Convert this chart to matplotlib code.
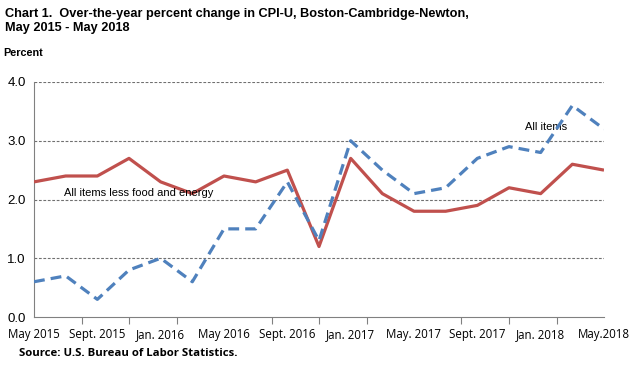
import matplotlib
matplotlib.use("Agg")
import matplotlib.pyplot as plt
import numpy as np

all_items = [0.6, 0.7, 0.3, 0.8, 1.0, 0.6, 1.5, 1.5, 2.3, 1.3, 3.0, 2.5, 2.1, 2.2, 2.7, 2.9, 2.8, 3.6, 3.2]
core = [2.3, 2.4, 2.4, 2.7, 2.3, 2.1, 2.4, 2.3, 2.5, 1.2, 2.7, 2.1, 1.8, 1.8, 1.9, 2.2, 2.1, 2.6, 2.5]
x_labels = ["May 2015", "Sept. 2015", "Jan. 2016", "May 2016", "Sept. 2016", "Jan. 2017",
            "May. 2017", "Sept. 2017", "Jan. 2018", "May.2018"]
y_ticks = [0.0, 1.0, 2.0, 3.0, 4.0]

fig = plt.figure(figsize=(6.43, 3.76), dpi=100)
ax = fig.add_axes([34/643, 1-317/376, (604-34)/643, (317-82)/376])
x = np.arange(len(all_items))

ax.plot(x, core, color="#C0504D", lw=2.3, solid_capstyle="butt", zorder=3)
ax.plot(x, all_items, color="#4F81BD", lw=2.3, dashes=(3.4, 1.9), zorder=4)

ax.set_xlim(0, 18)
ax.set_ylim(0, 4)
for s in ["top", "right"]:
    ax.spines[s].set_visible(False)
for s in ["left", "bottom"]:
    ax.spines[s].set_color("#808080")
    ax.spines[s].set_linewidth(0.8)

ax.set_yticks(y_ticks)
ax.set_yticklabels([f"{v:.1f}" for v in y_ticks], fontfamily="Liberation Sans", fontsize=9.5)
ax.tick_params(axis="y", length=0, pad=6)
for v in y_ticks[1:]:
    ax.axhline(v, color="#707070", lw=0.8, ls=(0, (2.5, 1.5)), zorder=1)

ax.set_xticks(np.arange(0, 19, 2))
ax.set_xticklabels(x_labels, fontfamily="Open Sans", fontsize=8.3)
ax.set_xticks(np.arange(0, 18.01, 1.5), minor=True)
ax.tick_params(axis="x", which="major", length=0, pad=8)
ax.tick_params(axis="x", which="minor", length=5, direction="out", color="#808080", width=0.8)

ax.text(15.5, 3.24, "All items", fontfamily="Liberation Sans", fontsize=8, va="center")
ax.text(0.95, 2.11, "All items less food and energy", fontfamily="Liberation Sans", fontsize=8,
        va="center")

fig.text(5/643, 1-14/376, "Chart 1.  Over-the-year percent change in CPI-U, Boston-Cambridge-Newton,",
         fontfamily="Liberation Sans", fontweight="bold", fontsize=9.2, va="center")
fig.text(5/643, 1-28.5/376, "May 2015 - May 2018",
         fontfamily="Liberation Sans", fontweight="bold", fontsize=9.2, va="center")
fig.text(3/643, 1-53/376, "Percent", fontfamily="Liberation Sans", fontweight="bold",
         fontsize=7.8, va="center")
fig.text(19/643, 1-353/376, "Source: U.S. Bureau of Labor Statistics.", fontfamily="Open Sans",
         fontweight="bold", fontsize=8.2, va="center")

fig.savefig("out.png", dpi=100)
